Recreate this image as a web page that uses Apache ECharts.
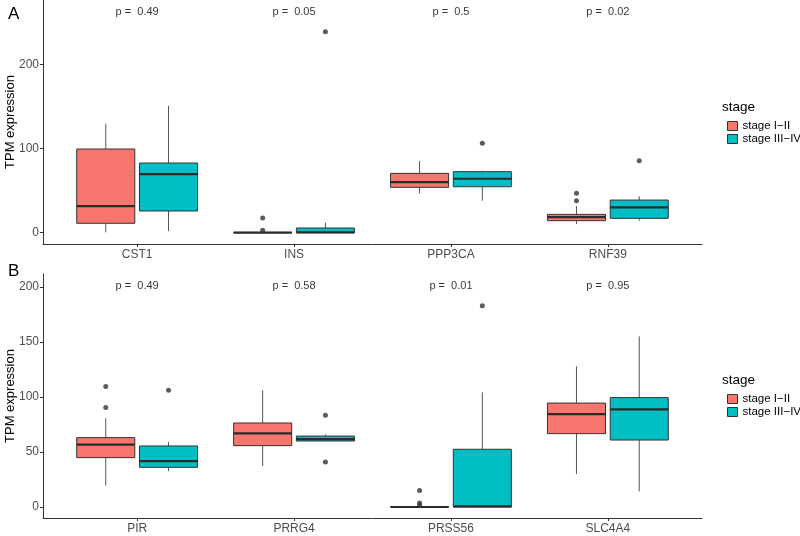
<!DOCTYPE html>
<html>
<head>
<meta charset="utf-8">
<title>TPM expression by stage</title>
<script src="https://cdn.jsdelivr.net/npm/echarts@6/dist/echarts.min.js"></script>
<style>
  html, body { margin: 0; padding: 0; background: #fff; }
  #main { width: 800px; height: 536px; }
</style>
</head>
<body>
<div id="main"></div>
<script>
// panel A
var genesA = ['CST1', 'INS', 'PPP3CA', 'RNF39'];
// [lower whisker, q1, median, q3, upper whisker]
var earlyA = [[0.5, 11.2, 31.7, 99.4, 129.5], [0, 0, 0, 0.4, 0.6], [46.8, 53.9, 60.2, 70.5, 85.2], [10.3, 14.3, 18.6, 21.8, 31.7]];
var lateA = [[2, 25.8, 69.7, 82.8, 150.8], [0, 0, 0.3, 5.6, 11.9], [38, 54.6, 64.1, 72.5, 73.6], [14.3, 17.1, 30.2, 38.8, 43.2]];
// [gene index, value]
var earlyOutA = [[1, 17.5], [1, 2.8], [3, 46.8], [3, 38]];
var lateOutA = [[1, 238.7], [2, 106.2], [3, 85.5]];
var pA = ['0.49', '0.05', '0.5', '0.02'];

// panel B
var genesB = ['PIR', 'PRRG4', 'PRSS56', 'SLC4A4'];
var earlyB = [[19.5, 44.9, 56.7, 63.1, 80.6], [37.3, 55.8, 67, 76.4, 106.1], [0, 0, 0, 0.4, 0.6], [30, 66.7, 84.5, 94.5, 127.9]];
var lateB = [[32.7, 36.1, 41.8, 55.5, 59.1], [60, 60, 61.8, 64.5, 66.1], [0, 0, 0.5, 52.5, 104.3], [14.3, 60.9, 88.8, 99.5, 155.2]];
var earlyOutB = [[0, 109.7], [0, 90.6], [2, 14.9], [2, 3.6], [2, 1.5]];
var lateOutB = [[0, 106.1], [1, 83.4], [1, 40.9], [2, 183]];
var pB = ['0.49', '0.58', '0.01', '0.95'];

var RED = '#F8766D', TEAL = '#00BFC4';
var FONT = 'Liberation Sans, Arial, sans-serif';
var SHIFT = 0.2, BOXW = 0.37;

function boxRows(stats, dx) {
    return stats.map(function (s, i) { return [i + 1 + dx].concat(s); });
}
function outRows(pts, dx) {
    return pts.map(function (p) { return [p[0] + 1 + dx, p[1]]; });
}
function pRows(ps, y) {
    return ps.map(function (p, i) { return { value: [i + 1, y], p: p }; });
}

function renderBox(params, api) {
    var x = api.value(0);
    var lo = api.coord([x, api.value(1)]);
    var q1 = api.coord([x, api.value(2)]);
    var md = api.coord([x, api.value(3)]);
    var q3 = api.coord([x, api.value(4)]);
    var hi = api.coord([x, api.value(5)]);
    var w = api.size([BOXW, 0])[0];
    var fill = api.visual('color');
    return {
        type: 'group',
        children: [
            { type: 'line', shape: { x1: lo[0], y1: lo[1], x2: q1[0], y2: q1[1] }, style: { stroke: '#555', lineWidth: 1 } },
            { type: 'line', shape: { x1: q3[0], y1: q3[1], x2: hi[0], y2: hi[1] }, style: { stroke: '#555', lineWidth: 1 } },
            { type: 'rect', shape: { x: q3[0] - w / 2, y: q3[1], width: w, height: q1[1] - q3[1] }, style: { fill: fill, stroke: '#333', lineWidth: 1 } },
            { type: 'line', shape: { x1: md[0] - w / 2, y1: md[1], x2: md[0] + w / 2, y2: md[1] }, style: { stroke: '#2b2b2b', lineWidth: 2.2 } }
        ]
    };
}

function xAxisFor(idx, genes) {
    return {
        type: 'value', gridIndex: idx, min: 0.4, max: 4.6,
        splitLine: { show: false },
        axisLine: { onZero: false, lineStyle: { color: '#333', width: 1 } },
        axisTick: { customValues: [1, 2, 3, 4], length: 3, lineStyle: { color: '#333' } },
        axisLabel: {
            customValues: [1, 2, 3, 4], margin: 5, color: '#4d4d4d', fontSize: 12, fontFamily: FONT,
            formatter: function (v) { return genes[Math.round(v) - 1]; }
        }
    };
}
function yAxisFor(idx, min, max, ticks) {
    return {
        type: 'value', gridIndex: idx, min: min, max: max,
        name: 'TPM expression', nameLocation: 'middle', nameGap: 26, nameMoveOverlap: false,
        nameTextStyle: { color: '#000', fontSize: 13, fontFamily: FONT },
        splitLine: { show: false },
        axisLine: { show: true, onZero: false, lineStyle: { color: '#333', width: 1 } },
        axisTick: { show: true, customValues: ticks, length: 3, lineStyle: { color: '#333' } },
        axisLabel: { customValues: ticks, margin: 4, color: '#4d4d4d', fontSize: 12, fontFamily: FONT }
    };
}
function boxSeries(name, color, idx, data) {
    return {
        type: 'custom', name: name, xAxisIndex: idx, yAxisIndex: idx,
        itemStyle: { color: color },
        renderItem: renderBox,
        encode: { x: 0, y: [1, 2, 3, 4, 5] },
        data: data, z: 2
    };
}
function outSeries(idx, data) {
    return {
        type: 'scatter', xAxisIndex: idx, yAxisIndex: idx, symbolSize: 5,
        itemStyle: { color: '#333' }, data: data, z: 3, silent: true
    };
}
function pSeries(idx, data) {
    return {
        type: 'scatter', xAxisIndex: idx, yAxisIndex: idx, symbolSize: 0, data: data, silent: true,
        label: {
            show: true, position: 'inside', color: '#000', fontSize: 11, fontFamily: FONT,
            formatter: function (d) { return 'p =  ' + d.data.p; }
        }
    };
}
function legendFor(top) {
    return {
        orient: 'vertical', left: 722, top: top, itemGap: 1, itemWidth: 10, itemHeight: 9,
        icon: 'rect', selectedMode: false,
        itemStyle: { borderColor: '#333', borderWidth: 1 },
        textStyle: { color: '#000', fontSize: 11.5, fontFamily: FONT },
        data: ['stage I\u2212II', 'stage III\u2212IV']
    };
}

var myChart = echarts.init(document.getElementById('main'));
myChart.setOption({
    animation: false,
    backgroundColor: '#fff',
    textStyle: { fontFamily: FONT },
    title: [
        { text: 'A', left: 3, top: 1, textStyle: { fontSize: 17, fontWeight: 'normal', color: '#000', fontFamily: FONT } },
        { text: 'B', left: 3, top: 258, textStyle: { fontSize: 17, fontWeight: 'normal', color: '#000', fontFamily: FONT } },
        { text: 'stage', left: 717, top: 95, textStyle: { fontSize: 13.5, fontWeight: 'normal', color: '#000', fontFamily: FONT } },
        { text: 'stage', left: 717, top: 368, textStyle: { fontSize: 13.5, fontWeight: 'normal', color: '#000', fontFamily: FONT } }
    ],
    legend: [legendFor(115), legendFor(388)],
    grid: [
        { left: 43, right: 98, top: 0, bottom: 292, outerBoundsMode: 'none', containLabel: false },
        { left: 43, right: 98, top: 274, bottom: 18, outerBoundsMode: 'none', containLabel: false }
    ],
    xAxis: [xAxisFor(0, genesA), xAxisFor(1, genesB)],
    yAxis: [yAxisFor(0, -13.4, 276.4, [0, 100, 200]), yAxisFor(1, -10, 211.9, [0, 50, 100, 150, 200])],
    series: [
        boxSeries('stage I\u2212II', RED, 0, boxRows(earlyA, -SHIFT)),
        boxSeries('stage III\u2212IV', TEAL, 0, boxRows(lateA, SHIFT)),
        boxSeries('stage I\u2212II', RED, 1, boxRows(earlyB, -SHIFT)),
        boxSeries('stage III\u2212IV', TEAL, 1, boxRows(lateB, SHIFT)),
        outSeries(0, outRows(earlyOutA, -SHIFT).concat(outRows(lateOutA, SHIFT))),
        outSeries(1, outRows(earlyOutB, -SHIFT).concat(outRows(lateOutB, SHIFT))),
        pSeries(0, pRows(pA, 262)),
        pSeries(1, pRows(pB, 201))
    ]
});
</script>
</body>
</html>
